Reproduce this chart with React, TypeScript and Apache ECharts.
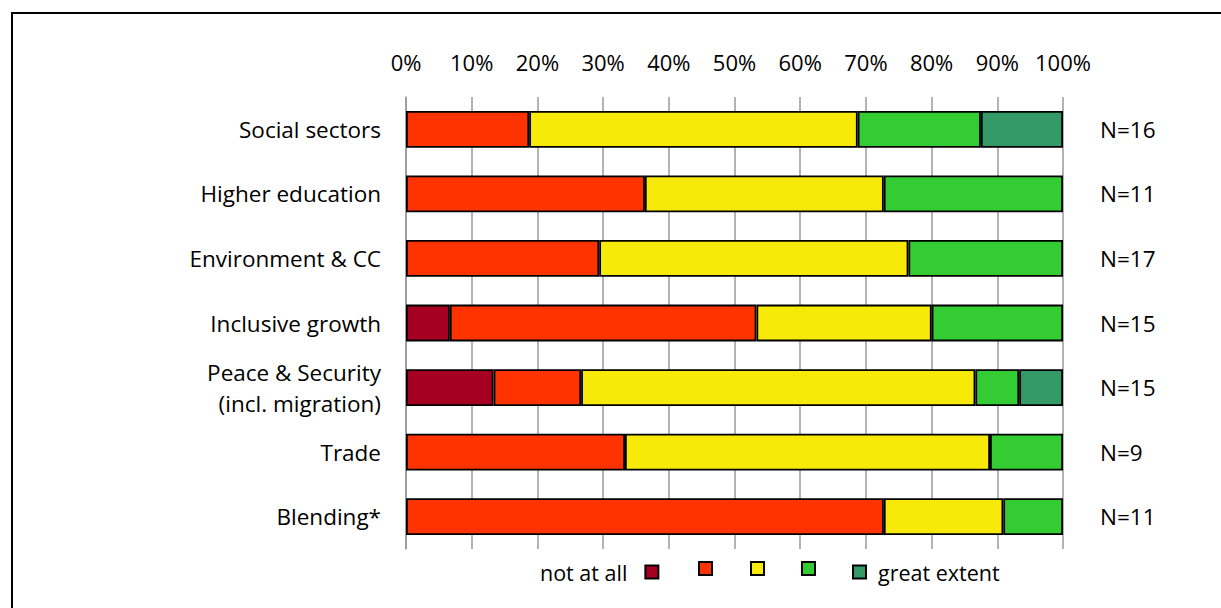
import React, { useEffect, useRef } from "react";
import * as echarts from "echarts";

const categories = [
  "Social sectors",
  "Higher education",
  "Environment & CC",
  "Inclusive growth",
  "Peace & Security\n(incl. migration)",
  "Trade",
  "Blending*",
];
const nLabels = ["N=16", "N=11", "N=17", "N=15", "N=15", "N=9", "N=11"];

const notAtAll = [0, 0, 0, 6.67, 13.33, 0, 0];
const level2 = [18.75, 36.36, 29.41, 46.67, 13.33, 33.33, 72.73];
const level3 = [50, 36.36, 47.06, 26.67, 60, 55.56, 18.18];
const level4 = [18.75, 27.27, 23.53, 20, 6.67, 11.11, 9.09];
const greatExtent = [12.5, 0, 0, 0, 6.67, 0, 0];

const seriesNames = ["not at all", "2", "3", "4", "great extent"];
const seriesValues = [notAtAll, level2, level3, level4, greatExtent];
const seriesColors = ["#A50021", "#FF3300", "#F7EA08", "#33CC33", "#339966"];

const FONT = "Open Sans";

export default function App() {
  const ref = useRef<HTMLDivElement>(null);
  useEffect(() => {
    if (!ref.current) return;
    const chart = echarts.init(ref.current, null, { renderer: "svg" });
    const textStyle = { fontFamily: FONT, fontSize: 22.5, color: "#000" };
    const legendText = { fontFamily: FONT, fontSize: 21.5, color: "#000" };
    const legendX = [535, 693, 745, 796, 847];
    const legendTop = 556;
    chart.setOption({
      animation: false,
      backgroundColor: "#fff",
      grid: { left: 406, right: 158, top: 97, bottom: 59, containLabel: false },
      xAxis: {
        type: "value",
        position: "top",
        min: 0,
        max: 100,
        interval: 10,
        axisLine: { show: false },
        axisTick: { show: false },
        axisLabel: { ...textStyle, fontSize: 22, margin: 24, formatter: "{value}%" },
        splitLine: { show: true, lineStyle: { color: "#9a9a9a", width: 1.5 } },
      },
      yAxis: [
        {
          type: "category",
          data: categories,
          inverse: true,
          axisLine: { show: true, lineStyle: { color: "#9a9a9a", width: 1.5 } },
          axisTick: { show: false },
          axisLabel: { ...textStyle, margin: 25, align: "right", lineHeight: 31 },
        },
        {
          type: "category",
          data: nLabels,
          inverse: true,
          position: "right",
          axisLine: { show: false },
          axisTick: { show: false },
          axisLabel: { ...textStyle, margin: 37, align: "left" },
        },
      ],
      legend: [
        {
          data: [seriesNames[0]],
          left: legendX[0],
          top: legendTop,
          align: "right",
          icon: "rect",
          itemWidth: 13,
          itemHeight: 13,
          selectedMode: false,
          textStyle: { ...legendText, padding: [0, 13, 0, 0] },
        },
        ...[1, 2, 3].map((i) => ({
          data: [seriesNames[i]],
          left: legendX[i],
          top: legendTop,
          icon: "rect",
          itemWidth: 13,
          itemHeight: 13,
          selectedMode: false,
          formatter: () => "",
          textStyle: legendText,
        })),
        {
          data: [seriesNames[4]],
          left: legendX[4],
          top: legendTop,
          icon: "rect",
          itemWidth: 13,
          itemHeight: 13,
          selectedMode: false,
          textStyle: { ...legendText, padding: [0, 0, 0, 7] },
        },
      ],
      graphic: [
        {
          type: "rect",
          shape: { x: 12, y: 13, width: 1400, height: 800 },
          style: { fill: "none", stroke: "#000", lineWidth: 2 },
          silent: true,
        },
      ],
      series: seriesNames.map((name, i) => ({
        name,
        type: "bar",
        stack: "total",
        barWidth: "57%",
        itemStyle: { color: seriesColors[i], borderColor: "#000", borderWidth: 1.8 },
        data: seriesValues[i].map((v) => (v === 0 ? null : v)),
      })),
    });
    return () => chart.dispose();
  }, []);
  return (
    <div
      ref={ref}
      style={{ position: "fixed", left: 0, top: 0, width: 1221, height: 608 }}
    />
  );
}
